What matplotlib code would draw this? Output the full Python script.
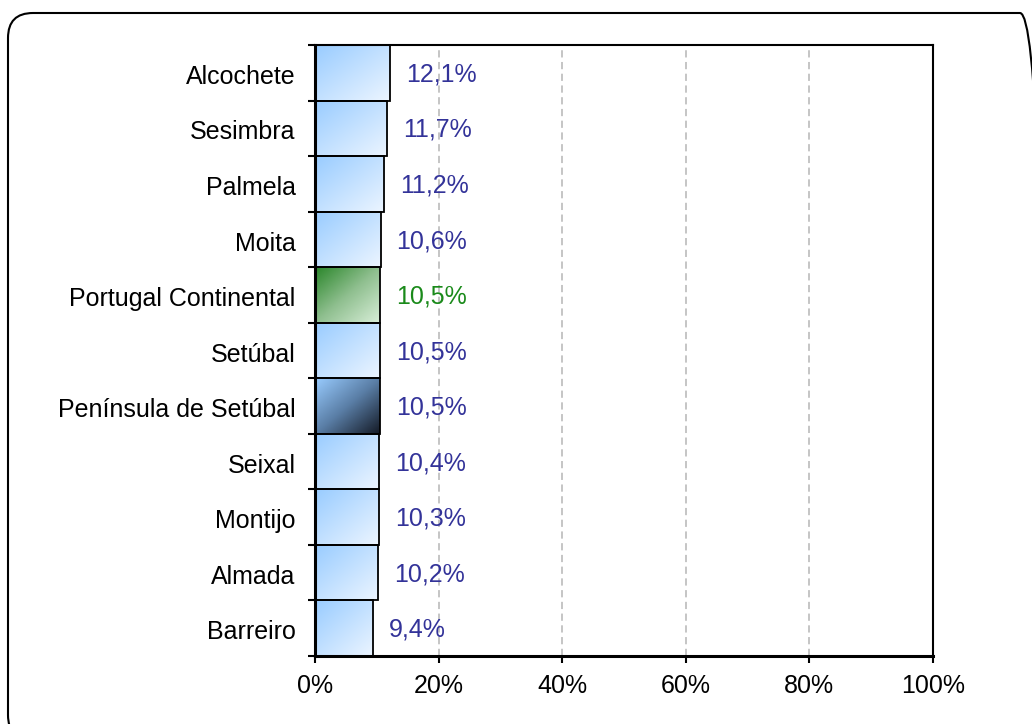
import numpy as np
import matplotlib
matplotlib.use("Agg")
import matplotlib.pyplot as plt
from matplotlib.colors import LinearSegmentedColormap
from matplotlib.patches import FancyBboxPatch, Rectangle
from matplotlib.transforms import IdentityTransform

plt.rcParams['font.family'] = ['Liberation Sans', 'DejaVu Sans']

# data
municipios = ["Alcochete", "Sesimbra", "Palmela", "Moita", "Portugal Continental",
              "Setúbal", "Península de Setúbal", "Seixal", "Montijo", "Almada", "Barreiro"]
valores = [12.1, 11.7, 11.2, 10.6, 10.5, 10.5, 10.5, 10.4, 10.3, 10.2, 9.4]
rotulos = ["12,1%", "11,7%", "11,2%", "10,6%", "10,5%", "10,5%", "10,5%",
           "10,4%", "10,3%", "10,2%", "9,4%"]
tipo = ["m", "m", "m", "m", "pt", "m", "ps", "m", "m", "m", "m"]

# gradient maps (top-left -> bottom-right)
cmaps = {
    "m": LinearSegmentedColormap.from_list("m", ["#99ccff", "#ecf5ff"]),
    "pt": LinearSegmentedColormap.from_list("pt", ["#2a862a", "#8fbf8f", "#d8eed8"]),
    "ps": LinearSegmentedColormap.from_list("ps", ["#99ccff", "#5a7ea6", "#141a26"]),
}
cor_txt = {"m": "#333399", "pt": "#1a8a1a", "ps": "#333399"}
fs = 18

fig = plt.figure(figsize=(10.32, 7.24), dpi=100)
ax = fig.add_axes([315 / 1032, 1 - 656 / 724, 618 / 1032, 611 / 724])

n = len(municipios)

# diagonal gradient grid
gx, gy = np.meshgrid(np.linspace(0, 1, 100), np.linspace(0, 1, 60))
grad = (gx + gy) / 2

for i, (v, t) in enumerate(zip(valores, tipo)):
    im = ax.imshow(grad, cmap=cmaps[t], extent=(0, v, i + 0.5, i - 0.5),
                   origin="upper", aspect="auto", interpolation="bilinear", zorder=2)
    r = Rectangle((0, i - 0.5), v, 1, facecolor="none", edgecolor="black",
                  linewidth=1.3, zorder=3)
    ax.add_patch(r)
    im.set_clip_path(r)
    ax.text(v + 2.6, i + 0.03, rotulos[i], va="center", ha="left", fontsize=fs,
            color=cor_txt[t], zorder=4)

ax.set_aspect("auto")
ax.set_xlim(0, 100)
ax.set_ylim(n - 0.5, -0.5)

# grid
for gxv in [20, 40, 60, 80]:
    ax.axvline(gxv, color="#c0c0c0", linewidth=1.3, linestyle=(0, (4, 2.5)), zorder=1)

ax.set_xticks([0, 20, 40, 60, 80, 100])
ax.set_xticklabels(["0%", "20%", "40%", "60%", "80%", "100%"])
ax.set_yticks(np.arange(n) + 0.03)
ax.set_yticklabels(municipios)
ax.set_yticks(np.arange(-0.5, n, 1), minor=True)
ax.tick_params(axis="y", which="major", length=0, pad=14, labelsize=fs)
ax.tick_params(axis="y", which="minor", length=5, width=1.5, direction="out")
ax.tick_params(axis="x", length=5, width=1.5, direction="out", pad=8, labelsize=fs)

for s in ax.spines.values():
    s.set_linewidth(1.5)
ax.spines["left"].set_linewidth(2.2)
ax.spines["bottom"].set_linewidth(2.2)

# rounded frame around chart
frame = FancyBboxPatch((8, -16), 1037, 727, boxstyle="round,pad=0,rounding_size=25",
                       transform=IdentityTransform(), facecolor="none",
                       edgecolor="black", linewidth=1.5)
fig.add_artist(frame)

fig.savefig("out.png", dpi=100)
